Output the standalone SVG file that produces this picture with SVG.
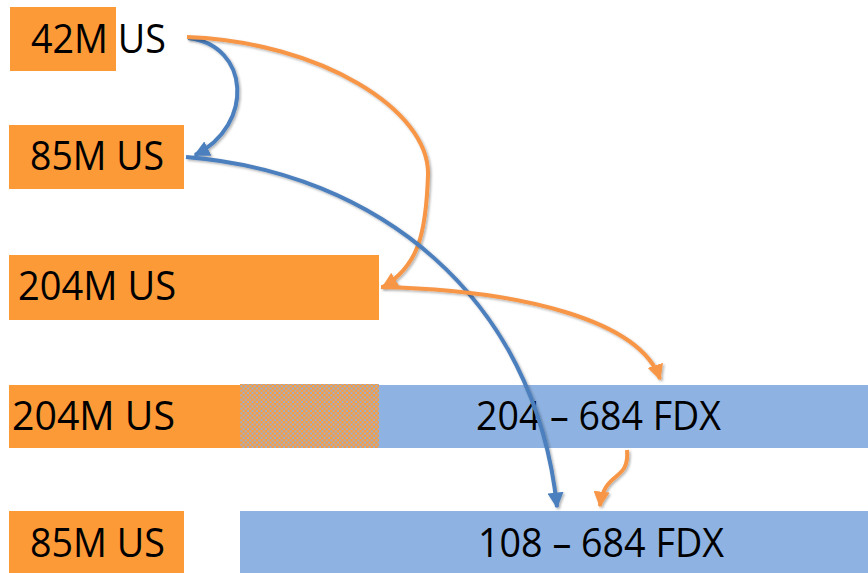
<svg xmlns="http://www.w3.org/2000/svg" width="868" height="573" viewBox="0 0 868 573">
<style>
.o{fill:#fd9a38}
.b{fill:#8eb3e2}
.t{font-family:"Open Sans","Liberation Sans",sans-serif;font-size:40px;fill:#000}
.cb{fill:none;stroke:#4b7fbd;stroke-width:4;filter:url(#sh)}
.co{fill:none;stroke:#f79646;stroke-width:4;filter:url(#sh)}
</style>
<defs>
<pattern id="dots" width="4.5" height="4.5" patternUnits="userSpaceOnUse" x="240" y="385">
<rect width="4.5" height="4.5" fill="#fd9a38"/>
<rect x="0.3" y="0.3" width="2" height="2" fill="#8eb3e2"/>
<rect x="2.55" y="2.55" width="2" height="2" fill="#8eb3e2"/>
</pattern>
<marker id="ab" viewBox="0 0 10 10" refX="9" refY="5" markerWidth="4" markerHeight="4" orient="auto"><path d="M0,0 L10,5 L0,10 z" fill="#4b7fbd"/></marker>
<marker id="ao" viewBox="0 0 10 10" refX="9" refY="5" markerWidth="4" markerHeight="4" orient="auto"><path d="M0,0 L10,5 L0,10 z" fill="#f79646"/></marker>
<filter id="sh" x="-20%" y="-20%" width="140%" height="140%"><feDropShadow dx="1.5" dy="1.5" stdDeviation="1.2" flood-color="#000" flood-opacity="0.3"/></filter>
</defs>
<g id="n42">
<rect class="o" x="10" y="7" width="106" height="64"/>
<text class="t" x="31" y="53" textLength="135" lengthAdjust="spacingAndGlyphs">42M US</text>
</g>
<g id="n85a">
<rect class="o" x="9" y="125" width="175" height="64"/>
<text class="t" x="30" y="170" textLength="134" lengthAdjust="spacingAndGlyphs">85M US</text>
</g>
<g id="n204a">
<rect class="o" x="9" y="255" width="370" height="65"/>
<text class="t" x="18" y="300" textLength="158" lengthAdjust="spacingAndGlyphs">204M US</text>
</g>
<g id="n204b">
<rect class="o" x="9" y="385" width="231" height="63"/>
<rect fill="url(#dots)" x="240" y="384" width="139" height="64"/>
<rect class="b" x="379" y="385" width="489" height="63"/>
<text class="t" x="12" y="430" textLength="163" lengthAdjust="spacingAndGlyphs">204M US</text>
<text class="t" x="476" y="430" textLength="245" lengthAdjust="spacingAndGlyphs">204 – 684 FDX</text>
</g>
<g id="n85b">
<rect class="o" x="9" y="511" width="175" height="62"/>
<rect class="b" x="240" y="511" width="628" height="62"/>
<text class="t" x="30" y="557" textLength="135" lengthAdjust="spacingAndGlyphs">85M US</text>
<text class="t" x="478" y="557" textLength="246" lengthAdjust="spacingAndGlyphs">108 – 684 FDX</text>
</g>
<g id="connectors">
<path class="cb" d="M188,38 C250,45 255,125 195,155" marker-end="url(#ab)"/>
<path class="co" d="M187,37 C320,42 430,110 428,175 C426,235 418,266 383,287" marker-end="url(#ao)"/>
<path class="cb" d="M186,157 C375,172 535,295 557,507" marker-end="url(#ab)"/>
<path class="co" d="M381,287 C520,290 640,320 660,379" marker-end="url(#ao)"/>
<path class="co" d="M627,450 C630,482 604,470 600,506" marker-end="url(#ao)"/>
</g>
</svg>
